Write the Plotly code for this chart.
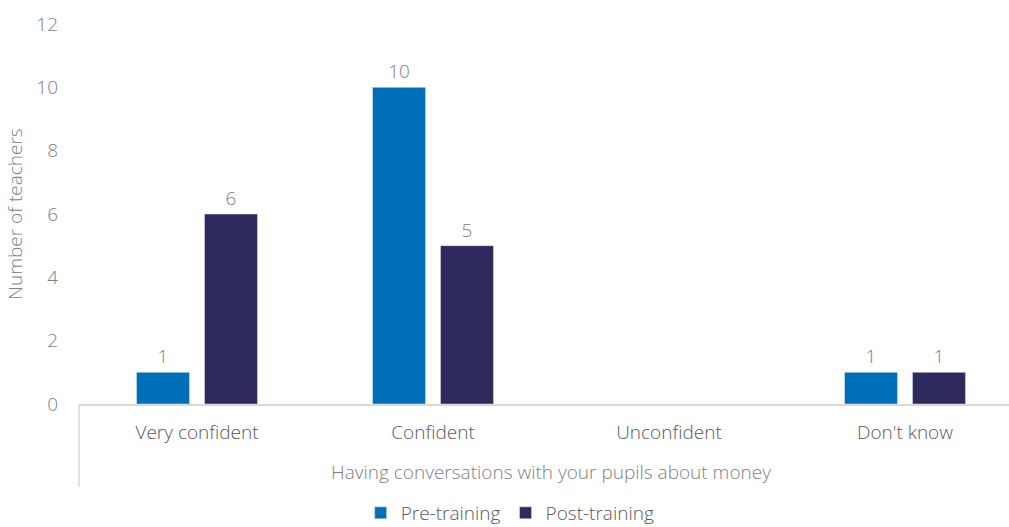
import plotly.graph_objects as go

categories = ["Very confident", "Confident", "Unconfident", "Don't know"]
pre_training = [1, 10, 0, 1]
post_training = [6, 5, 0, 1]
group_label = "Having conversations with your pupils about money"
y_ticks = [0, 2, 4, 6, 8, 10, 12]

FONT = "Open Sans"
BLUE = "#006EB9"
NAVY = "#2E2A5E"
GREY = "#7F7F7F"
DARK = "#595959"
LINE = "#D9D9D9"
FS = 19

pos = list(range(len(categories)))


def labels(vals):
    return [str(v) if v else "" for v in vals]


fig = go.Figure()
fig.add_trace(go.Bar(
    x=pos, y=pre_training, name="Pre-training", marker_color=BLUE,
    text=labels(pre_training), textposition="outside",
    textfont=dict(family=FONT, size=FS, color=GREY, weight=300),
    cliponaxis=False,
))
fig.add_trace(go.Bar(
    x=pos, y=post_training, name="Post-training", marker_color=NAVY,
    text=labels(post_training), textposition="outside",
    textfont=dict(family=FONT, size=FS, color=GREY, weight=300),
    cliponaxis=False,
))

plot_h = 380.0

fig.update_layout(
    width=1009, height=527,
    margin=dict(l=79, r=0, t=24, b=123, autoexpand=False),
    paper_bgcolor="white", plot_bgcolor="white",
    barmode="group", bargap=0.424, bargroupgap=0.22,
    font=dict(family=FONT, size=FS, color=GREY, weight=300),
    showlegend=True,
    legend=dict(
        orientation="h", x=0.4636, xanchor="center",
        y=-(513 - 404) / plot_h, yanchor="middle",
        font=dict(family=FONT, size=FS, color=DARK, weight=300),
        itemwidth=30, traceorder="normal",
    ),
    xaxis=dict(
        range=[-0.5, (1009 - 79) / 236 - 0.5],
        tickvals=pos, ticktext=categories, ticks="",
        showgrid=False, zeroline=False,
        showline=True, linecolor=LINE, linewidth=1.5,
        tickfont=dict(family=FONT, size=FS, color=DARK, weight=300),
        ticklabelstandoff=10,
    ),
    yaxis=dict(
        range=[0, 12], tickvals=y_ticks, ticks="",
        showgrid=False, zeroline=False, showline=False,
        tickfont=dict(family=FONT, size=FS, color=GREY, weight=300),
        ticklabelstandoff=20,
        title=dict(text="Number of teachers", standoff=8,
                   font=dict(family=FONT, size=FS, color=GREY, weight=300)),
    ),
)

# Multi-level category frame and outer group label
fig.add_shape(type="line", xref="paper", yref="paper",
              x0=0, x1=0, y0=0, y1=-(487 - 404) / plot_h,
              line=dict(color=LINE, width=1.5))
fig.add_annotation(
    text=group_label, xref="x", yref="paper",
    x=1.5, y=-(472 - 404) / plot_h, yanchor="middle", showarrow=False,
    font=dict(family=FONT, size=FS, color=GREY, weight=300),
)

fig.write_html("out.html")
